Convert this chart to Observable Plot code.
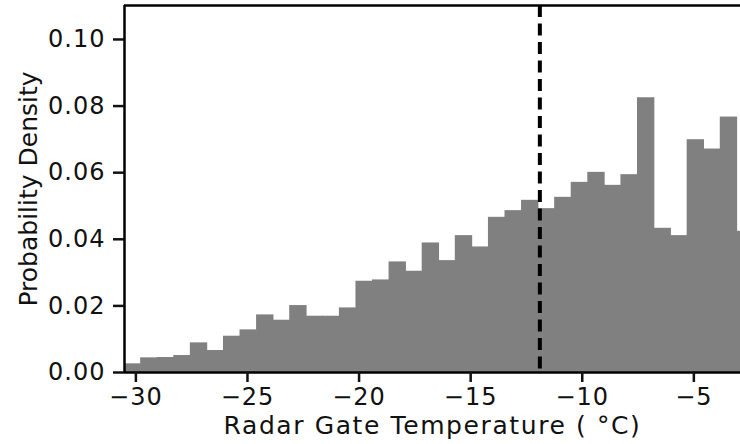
<!DOCTYPE html>
<html>
<head>
<meta charset="utf-8">
<script src="https://cdn.jsdelivr.net/npm/d3@7"></script>
<script src="https://cdn.jsdelivr.net/npm/@observablehq/plot@0.6"></script>
<style>
  html, body { margin: 0; padding: 0; background: #fff; }
  #chart svg { display: block; }
</style>
</head>
<body>
<div id="chart"></div>
<script>
// Histogram bins (left edge of first bin and common bin width, °C)
const binStart = -30.51;
const binWidth = 0.742;
// Probability density per bin
const density = [
  0.0026, 0.0044, 0.0045, 0.0051, 0.0089, 0.0066, 0.0109, 0.0128, 0.0173, 0.0157,
  0.0201, 0.0169, 0.0169, 0.0194, 0.0274, 0.0278, 0.0332, 0.0304, 0.0389, 0.0336,
  0.0411, 0.0377, 0.0466, 0.0486, 0.0517, 0.0492, 0.0526, 0.0571, 0.0601, 0.0562,
  0.0594, 0.0825, 0.0433, 0.0411, 0.0699, 0.0671, 0.0767, 0.0424
];
const threshold = -11.9;          // dashed reference line
const xDomain = [-30.51, -2.91];
const yDomain = [0, 0.1102];
const xTicks = [-30, -25, -20, -15, -10, -5];
const yTicks = [0, 0.02, 0.04, 0.06, 0.08, 0.10];
const xLabel = "Radar Gate Temperature ( \u00B0C)";
const yLabel = "Probability Density";

const bins = density.map((d, i) => ({
  x1: binStart + i * binWidth,
  x2: binStart + (i + 1) * binWidth,
  y: d
}));

const chart = Plot.plot({
  width: 740,
  height: 444,
  marginLeft: 124,
  marginRight: 0,
  marginTop: 5,
  marginBottom: 72,
  style: { fontFamily: "DejaVu Sans", color: "#111", background: "#fff" },
  x: { domain: xDomain },
  y: { domain: yDomain },
  marks: [
    Plot.rectY(bins, { x1: "x1", x2: "x2", y: "y", fill: "#808080", clip: true,
      insetLeft: -0.4, insetRight: -0.4 }),
    Plot.ruleX([threshold], { stroke: "#000", strokeWidth: 4, strokeDasharray: "12,6.5" }),
    Plot.ruleY([yDomain[0]], { stroke: "#000", strokeWidth: 2.5 }),
    Plot.ruleY([yDomain[1]], { stroke: "#000", strokeWidth: 2.5 }),
    Plot.ruleX([xDomain[0]], { stroke: "#000", strokeWidth: 2.5 }),
    Plot.axisX({ ticks: xTicks, tickSize: 10, tickPadding: 5, strokeWidth: 2.5,
      fontSize: 24, label: null, tickFormat: d => d3.format("d")(d).replace("-", "\u2212") }),
    Plot.axisY({ ticks: yTicks, tickSize: 11, tickPadding: 8, strokeWidth: 2.5,
      fontSize: 24, label: null, tickFormat: d3.format(".2f") }),
    Plot.text([xLabel], { frameAnchor: "bottom", lineAnchor: "middle", textAnchor: "middle",
      dy: 53, fontSize: 25, fill: "#111" }),
    Plot.text([yLabel], { frameAnchor: "left", lineAnchor: "middle", textAnchor: "middle",
      rotate: -90, dx: -96, fontSize: 25, fill: "#111" })
  ]
});
document.getElementById("chart").appendChild(chart);
// widen horizontal texts slightly to match the reference's proportions
chart.querySelectorAll("text").forEach(t => {
  const s = t.textContent;
  if (s === xLabel) t.style.letterSpacing = "1.6px";
  else if (s !== yLabel) t.style.letterSpacing = "1px";
});
</script>
</body>
</html>
